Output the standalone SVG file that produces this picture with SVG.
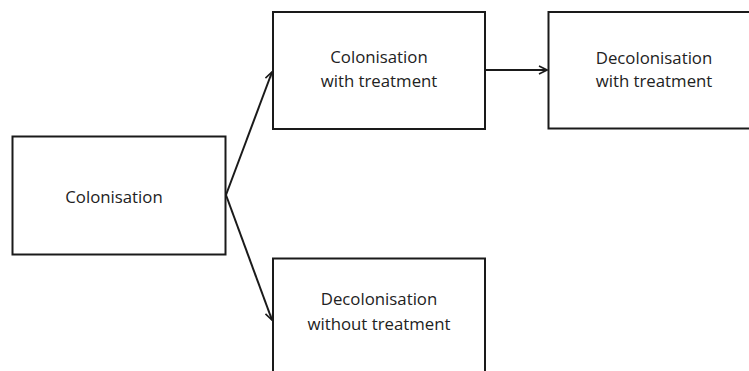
<svg xmlns="http://www.w3.org/2000/svg" width="749" height="371" viewBox="0 0 749 371">
<defs>
<marker id="arr" viewBox="0 0 10 10" refX="9" refY="5" markerWidth="10" markerHeight="10" markerUnits="userSpaceOnUse" orient="auto">
<path d="M1,1 L9,5 L1,9" fill="none" stroke="#1a1a1a" stroke-width="1.6"/>
</marker>
</defs>
<style>
.box{fill:#fff;stroke:#1a1a1a;stroke-width:2}
.lbl{font-family:"Open Sans","Liberation Sans",sans-serif;font-size:16.8px;fill:#222;text-anchor:middle}
.con{fill:none;stroke:#1a1a1a;stroke-width:2;marker-end:url(#arr)}
</style>
<rect width="749" height="371" fill="#fff"/>
<g id="connectors">
<path class="con" d="M226,195 L272,72"/>
<path class="con" d="M226,195 L272,320"/>
<path class="con" d="M485,70 L547,70"/>
</g>
<g id="colonisation">
<rect class="box" x="12.5" y="136.5" width="213" height="118"/>
<text class="lbl" x="114" y="203">Colonisation</text>
</g>
<g id="colonisation-with-treatment">
<rect class="box" x="273" y="12" width="212" height="117"/>
<text class="lbl" x="379" y="63">Colonisation</text>
<text class="lbl" x="379" y="87">with treatment</text>
</g>
<g id="decolonisation-with-treatment">
<rect class="box" x="548.5" y="12" width="210" height="116.5"/>
<text class="lbl" x="654" y="64">Decolonisation</text>
<text class="lbl" x="654" y="87">with treatment</text>
</g>
<g id="decolonisation-without-treatment">
<rect class="box" x="273" y="258.5" width="212" height="130"/>
<text class="lbl" x="379" y="305">Decolonisation</text>
<text class="lbl" x="379" y="330">without treatment</text>
</g>
</svg>
